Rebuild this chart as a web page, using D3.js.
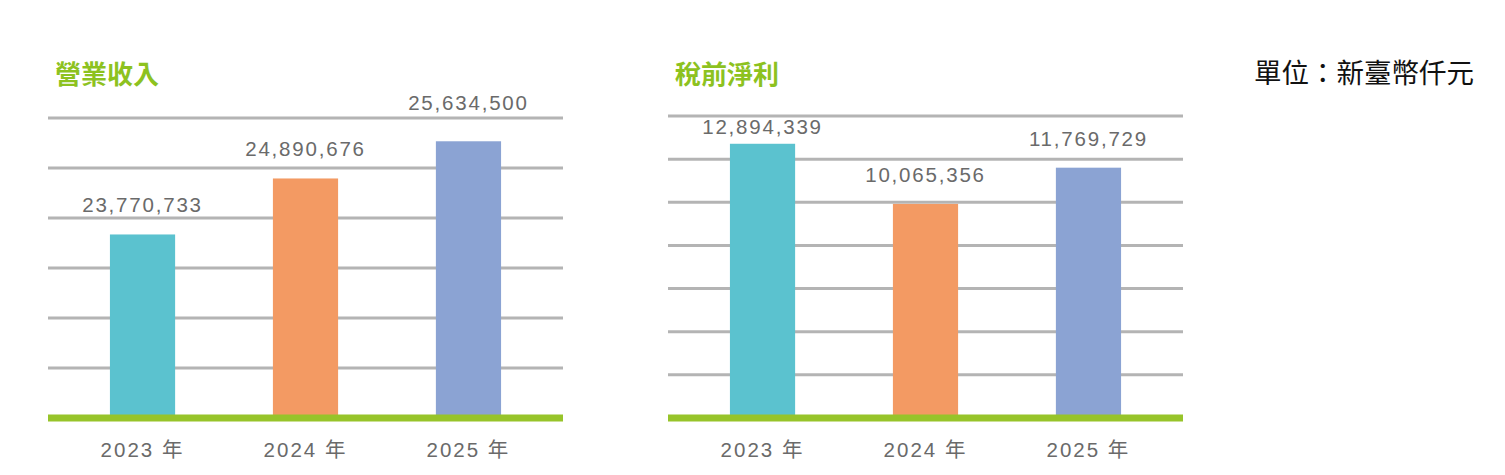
<!DOCTYPE html>
<html>
<head>
<meta charset="utf-8">
<script src="https://cdn.jsdelivr.net/npm/d3@7"></script>
<style>
  body { margin: 0; background: #fff; }
  svg { display: block; }
</style>
</head>
<body>
<div id="chart"></div>
<script>
// chart data
const years = ["2023 年", "2024 年", "2025 年"];
const revenue = [23770733, 24890676, 25634500];
const profit = [12894339, 10065356, 11769729];
const barColors = ["#5bc2cf", "#f39a63", "#8ba3d3"];

const width = 1505;
const height = 475;

const svg = d3.select("#chart").append("svg")
    .attr("width", width)
    .attr("height", height);

const fmt = d3.format(",");

// draw one small bar panel
function drawPanel(opts) {
    const g = svg.append("g").attr("transform", `translate(${opts.left},0)`);
    const w = 515;
    const base = 418;
    const top = opts.top;

    const x = d3.scaleBand()
        .domain(years)
        .range([0, w])
        .paddingInner(0.6)
        .paddingOuter(0.38);

    const y = d3.scaleLinear()
        .domain(opts.domain)
        .range([base, top]);

    // gridlines, evenly split over the domain
    const [d0, d1] = opts.domain;
    const ticks = d3.range(1, opts.divisions + 1).map(k => d0 + (d1 - d0) * k / opts.divisions);

    g.selectAll(".grid")
        .data(ticks)
        .enter().append("line")
        .attr("x1", 0)
        .attr("x2", w)
        .attr("y1", d => y(d))
        .attr("y2", d => y(d))
        .style("stroke", "#b4b4b4")
        .style("stroke-width", 3);

    // bars
    g.selectAll(".bar")
        .data(opts.values)
        .enter().append("rect")
        .attr("x", (d, i) => x(years[i]))
        .attr("width", x.bandwidth())
        .attr("y", d => y(d))
        .attr("height", d => base - y(d))
        .style("fill", (d, i) => barColors[i]);

    // baseline
    g.append("line")
        .attr("x1", 0)
        .attr("x2", w)
        .attr("y1", base)
        .attr("y2", base)
        .style("stroke", "#97c42a")
        .style("stroke-width", 7);

    // value labels - keep them off the top gridline
    function labelY(d) {
        const yb = y(d);
        let ly = yb - 22;
        if (ly > top - 2 && ly - 16 < top + 2) {
            ly = (yb - top >= 26) ? yb - 10 : top - 8;
        }
        return ly;
    }

    g.selectAll(".val")
        .data(opts.values)
        .enter().append("text")
        .attr("x", (d, i) => x(years[i]) + x.bandwidth() / 2)
        .attr("y", d => labelY(d))
        .attr("text-anchor", "middle")
        .style("font-family", "Liberation Sans, Arial, sans-serif")
        .style("font-size", "20.5px")
        .style("letter-spacing", "1.8px")
        .style("fill", "#6a6a6a")
        .text(d => fmt(d));

    // x axis labels
    const xAxis = g.append("g")
        .attr("transform", `translate(0,${base})`)
        .call(d3.axisBottom(x).tickSize(0).tickPadding(24));
    xAxis.select(".domain").remove();
    xAxis.selectAll("text")
        .style("font-family", "Liberation Sans, 'Noto Sans CJK TC', sans-serif")
        .style("font-size", "20.5px")
        .style("letter-spacing", "2px")
        .style("fill", "#6a6a6a");

    // title
    svg.append("text")
        .attr("x", opts.left + 7)
        .attr("y", 84)
        .style("font-family", "'Noto Sans CJK TC', sans-serif")
        .style("font-size", "26px")
        .style("font-weight", "bold")
        .style("fill", "#8dc21f")
        .text(opts.title);
}

drawPanel({
    left: 48,
    title: "營業收入",
    values: revenue,
    domain: [20100000, 26100000],
    divisions: 6,
    top: 118
});

drawPanel({
    left: 668,
    title: "稅前淨利",
    values: profit,
    domain: [0, 14200000],
    divisions: 7,
    top: 116
});

// unit note
svg.append("text")
    .attr("x", 1254)
    .attr("y", 83)
    .style("font-family", "'Noto Sans CJK TC', sans-serif")
    .style("font-size", "27.5px")
    .style("fill", "#111")
    .text("單位：新臺幣仟元");
</script>
</body>
</html>
